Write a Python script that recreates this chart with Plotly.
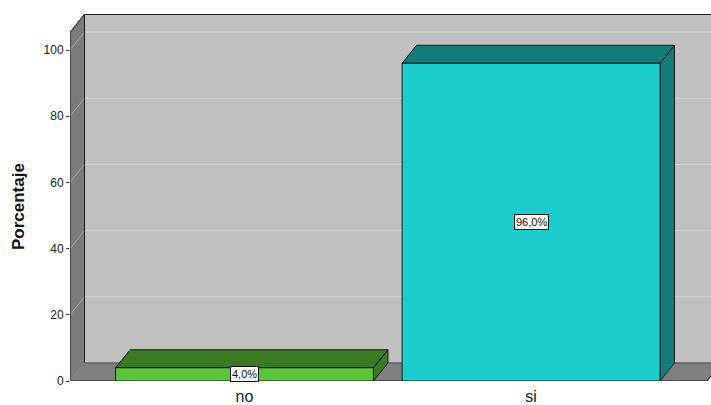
import plotly.graph_objects as go

# ---- data ----
CATEGORIES = ["no", "si"]
PERCENT = [4.0, 96.0]
Y_TICKS = [0, 20, 40, 60, 80, 100]
Y_TITLE = "Porcentaje"
FRONT_COLORS = ["#5cc43a", "#1ccdcd"]
DARK_COLORS = ["#3b7a22", "#117c7a"]

# ---- geometry (data units) ----
BAR_W = 0.9
DX = 0.0506      # depth offset in x units
DY = 5.44        # depth offset in y units
X_MIN, X_MAX = -0.609, 1.628
Y_MAX = 110.88
WALL_TOP = 105.3
X_FLOOR_R = 1.614
xL = X_MIN
xLb = X_MIN + DX

fig = go.Figure()

def poly(xs, ys, fill, line="#1a1a1a", lw=1):
    fig.add_trace(go.Scatter(x=xs + [xs[0]], y=ys + [ys[0]], mode="lines",
                             fill="toself", fillcolor=fill,
                             line=dict(color=line, width=lw),
                             hoverinfo="skip", showlegend=False))

def seg(xs, ys, color, lw=1):
    fig.add_trace(go.Scatter(x=xs, y=ys, mode="lines",
                             line=dict(color=color, width=lw),
                             hoverinfo="skip", showlegend=False))

# back wall
poly([xLb, xLb, X_MAX + 0.1, X_MAX + 0.1], [DY, WALL_TOP + DY, WALL_TOP + DY, DY],
     "#c0c0c0", line="#c0c0c0")
# back gridlines
for t in Y_TICKS[1:]:
    seg([xLb, X_MAX + 0.1], [t + DY, t + DY], "#d6d6d6")
# back wall borders
seg([xLb, xLb, X_MAX + 0.1], [DY, WALL_TOP + DY, WALL_TOP + DY], "#1a1a1a")

# left wall
poly([xL, xL, xLb, xLb], [0, WALL_TOP, WALL_TOP + DY, DY], "#7b7b7b", line="#7b7b7b")
for t in Y_TICKS:
    seg([xL, xLb], [t, t + DY], "#a8a8a8")
seg([xL, xL, xLb], [0, WALL_TOP, WALL_TOP + DY], "#1a1a1a")
seg([xLb, xLb], [DY, WALL_TOP + DY], "#1a1a1a")

# floor
poly([xL, X_FLOOR_R, X_FLOOR_R + DX, xLb], [0, 0, DY, DY], "#808080", line="#808080")
seg([xLb, X_FLOOR_R + DX], [DY, DY], "#555555")
seg([xL, X_FLOOR_R, X_FLOOR_R + DX], [0, 0, DY], "#1a1a1a")

# bars (3D boxes)
annots = []
for i, (cat, v) in enumerate(zip(CATEGORIES, PERCENT)):
    x0, x1 = i - BAR_W / 2, i + BAR_W / 2
    # right side
    poly([x1, x1 + DX, x1 + DX, x1], [0, DY, v + DY, v], DARK_COLORS[i])
    # top
    poly([x0, x0 + DX, x1 + DX, x1], [v, v + DY, v + DY, v], DARK_COLORS[i])
    # front
    poly([x0, x1, x1, x0], [0, 0, v, v], FRONT_COLORS[i])
    annots.append(dict(x=i, y=v / 2, xref="x", yref="y",
                       text=f"{v:.1f}%".replace(".", ","), showarrow=False,
                       font=dict(family="Liberation Sans, Arial", size=11, color="#111"),
                       bgcolor="white", bordercolor="#111", borderwidth=1, borderpad=1))

# y-axis title
annots.append(dict(x=0, y=0.474, xref="paper", yref="paper", xanchor="center",
                   yanchor="middle", xshift=-52, textangle=-90, showarrow=False,
                   text=f"<b>{Y_TITLE}</b>",
                   font=dict(family="Liberation Sans, Arial", size=17, color="#111")))

fig.update_layout(
    width=711, height=405,
    margin=dict(l=70, r=0, t=14, b=24),
    paper_bgcolor="white", plot_bgcolor="white",
    font=dict(family="Liberation Sans, Arial", color="#222"),
    annotations=annots,
    xaxis=dict(range=[X_MIN, X_MAX], tickvals=list(range(len(CATEGORIES))),
               ticktext=CATEGORIES, showgrid=False, zeroline=False, showline=False,
               ticks="outside", ticklen=1, tickcolor="rgba(0,0,0,0)",
               tickfont=dict(size=16, color="#222"), automargin=False),
    yaxis=dict(range=[0, Y_MAX], tickvals=Y_TICKS, showgrid=False, zeroline=False,
               showline=False, ticks="outside", ticklen=3, tickcolor="#444",
               tickfont=dict(size=12, color="#222"), automargin=False),
)

fig.write_html("out.html")
